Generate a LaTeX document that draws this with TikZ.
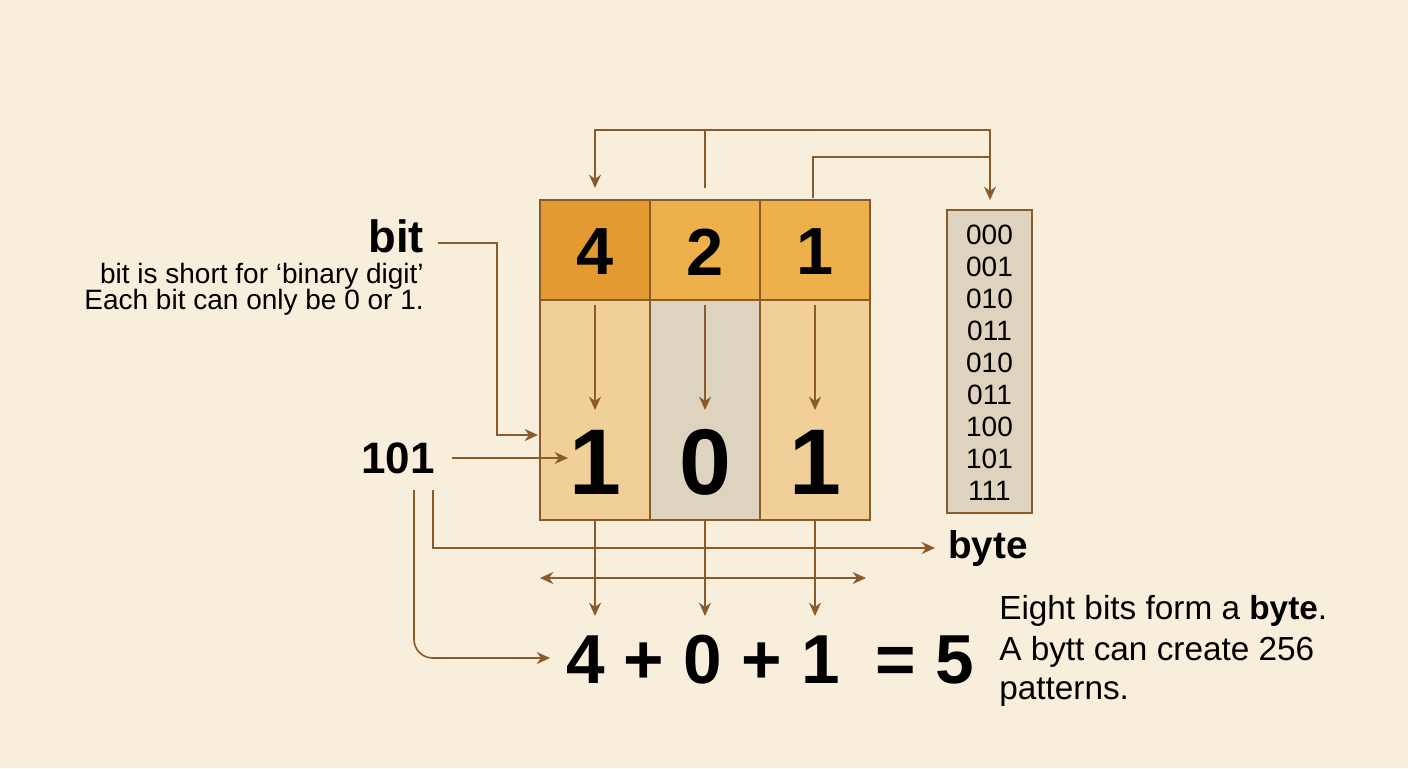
\documentclass[tikz,border=0pt]{standalone}
\usepackage{fontspec}
\setmainfont{Liberation Sans}
\usepackage{tikz}
\usetikzlibrary{arrows.meta}
\definecolor{bgcol}{HTML}{F7EEDB}
\definecolor{brn}{HTML}{8B5A2B}
\definecolor{darkor}{HTML}{E39A30}
\definecolor{midor}{HTML}{EDB04A}
\definecolor{lightor}{HTML}{F0CF98}
\definecolor{greyc}{HTML}{DDD3BE}
\tikzset{
  wire/.style={draw=brn, line width=1.2pt},
  arr/.style={wire, -{Stealth[length=10pt,width=9pt]}},
  cell/.style={draw=brn, line width=1.2pt},
  lbl/.style={inner sep=0.75pt, font=\fontsize{21}{24}\selectfont},
  rtxt/.style={anchor=west, inner sep=0.75pt, font=\fontsize{25}{28}\selectfont},
}
\begin{document}
\begin{tikzpicture}[x=0.75pt,y=0.75pt,yscale=-1,xscale=1]
    \fill[bgcol] (0,0) rectangle (1408,768);
    \useasboundingbox (0,0) rectangle (1408,768);

    % grid cells
    \filldraw[cell, fill=darkor] (540,200) rectangle (650,300);
    \filldraw[cell, fill=midor] (650,200) rectangle (760,300);
    \filldraw[cell, fill=midor] (760,200) rectangle (870,300);
    \filldraw[cell, fill=lightor] (540,300) rectangle (650,520);
    \filldraw[cell, fill=greyc] (650,300) rectangle (760,520);
    \filldraw[cell, fill=lightor] (760,300) rectangle (870,520);

    % Text Node
    \node (w4) at (595,252) [font=\fontsize{50}{54}\selectfont\bfseries] {4};
    \node (w2) at (705,252) [font=\fontsize{50}{54}\selectfont\bfseries] {2};
    \node (w1) at (815,252) [font=\fontsize{50}{54}\selectfont\bfseries] {1};
    \node (b1) at (595,462) [font=\fontsize{70}{74}\selectfont\bfseries] {1};
    \node (b0) at (705,462) [font=\fontsize{70}{74}\selectfont\bfseries] {0};
    \node (b3) at (815,462) [font=\fontsize{70}{74}\selectfont\bfseries] {1};

    % inner arrows
    \coordinate (t1) at (595,305); \coordinate (h1) at (595,410);
    \coordinate (t2) at (705,305); \coordinate (h2) at (705,410);
    \coordinate (t3) at (815,305); \coordinate (h3) at (815,410);
    \draw[arr] (t1) -- (h1);
    \draw[arr] (t2) -- (h2);
    \draw[arr] (t3) -- (h3);

    % pattern list
    \filldraw[cell, fill=greyc] (947,210) rectangle (1032,513);
    \foreach \p [count=\i] in {000,001,010,011,010,011,100,101,111}
      \node (p\i) at (989.5,203+32*\i) [inner sep=0pt, font=\fontsize{21}{23}\selectfont] {\p};

    % top connectors
    \coordinate (top) at (705,188);
    \draw[wire] (top) -- (705,130);
    \draw[arr] (705,130) -- (595,130) -- (595,188);
    \draw[arr] (705,130) -- (990,130) -- (990,200);
    \draw[wire] (813,198) -- (813,157) -- (990,157);

    % left labels
    \node (bit) [anchor=east, inner sep=0.75pt, font=\fontsize{34}{38}\selectfont\bfseries] at (425,236) {bit};
    \node (bitA) [anchor=east, lbl] at (425,276) {bit is short for ‘binary digit’};
    \node (bitB) [anchor=east, lbl] at (425,302) {Each bit can only be 0 or 1.};
    \draw[arr] (438,243) -- (497,243) -- (497,435) -- (538,435);

    \node (num) [anchor=east, inner sep=0.75pt, font=\fontsize{33}{36}\selectfont\bfseries] at (436,458) {101};
    \draw[arr] (452,458) -- (568,458);
    \draw[arr] (433,490) -- (433,548) -- (935,548);
    \node (byte) [anchor=west, inner sep=0.75pt, font=\fontsize{29}{32}\selectfont\bfseries] at (947,548) {byte};
    \draw[arr, rounded corners=14pt] (414,490) -- (414,658) -- (550,658);

    % sum
    \draw[wire, {Stealth[length=10pt,width=9pt]}-{Stealth[length=10pt,width=9pt]}] (540,578) -- (866,578);
    \draw[arr] (595,520) -- (595,616);
    \draw[arr] (705,520) -- (705,616);
    \draw[arr] (815,520) -- (815,616);
    \node (sum) at (703,660) [font=\fontsize{52}{56}\selectfont\bfseries] {4 + 0 + 1};
    \node (res) at (925,660) [font=\fontsize{52}{56}\selectfont\bfseries] {= 5};

    % right text
    \node (rA) [rtxt] at (998,611) {Eight bits form a \textbf{byte}.};
    \node (rB) [rtxt] at (998,652) {A bytt can create 256};
    \node (rC) [rtxt] at (998,692) {patterns.};
\end{tikzpicture}
\end{document}
